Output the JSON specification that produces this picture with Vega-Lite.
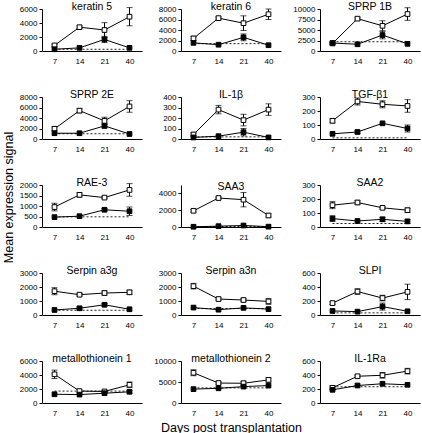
{
"$schema": "https://vega.github.io/schema/vega-lite/v6.json",
"background": "white",
"padding": {"left": 2, "top": 1, "right": 2, "bottom": 2},
"title": {"text": "Mean expression signal", "orient": "left", "anchor": "middle", "fontSize": 12.5, "fontWeight": "normal", "font": "Liberation Sans", "offset": 4, "color": "black", "dx": 20},
"data": {"values": [
{"g":"keratin 5","d":7,"s":"T","v":800,"e":150},{"g":"keratin 5","d":14,"s":"T","v":3400,"e":200},{"g":"keratin 5","d":21,"s":"T","v":3000,"e":1050},{"g":"keratin 5","d":40,"s":"T","v":4900,"e":1300},
{"g":"keratin 5","d":7,"s":"F","v":250,"e":0},{"g":"keratin 5","d":14,"s":"F","v":450,"e":0},{"g":"keratin 5","d":21,"s":"F","v":1650,"e":450},{"g":"keratin 5","d":40,"s":"F","v":450,"e":0},
{"g":"keratin 5","d":7,"s":"C","v":250,"e":0},{"g":"keratin 5","d":40,"s":"C","v":250,"e":0},
{"g":"keratin 6","d":7,"s":"T","v":2400,"e":400},{"g":"keratin 6","d":14,"s":"T","v":6260,"e":200},{"g":"keratin 6","d":21,"s":"T","v":5300,"e":1400},{"g":"keratin 6","d":40,"s":"T","v":7000,"e":1000},
{"g":"keratin 6","d":7,"s":"F","v":1550,"e":0},{"g":"keratin 6","d":14,"s":"F","v":1200,"e":0},{"g":"keratin 6","d":21,"s":"F","v":2600,"e":650},{"g":"keratin 6","d":40,"s":"F","v":1100,"e":0},
{"g":"keratin 6","d":7,"s":"C","v":1400,"e":0},{"g":"keratin 6","d":40,"s":"C","v":1400,"e":0},
{"g":"SPRP 1B","d":7,"s":"T","v":1800,"e":200},{"g":"SPRP 1B","d":14,"s":"T","v":7700,"e":300},{"g":"SPRP 1B","d":21,"s":"T","v":6000,"e":1200},{"g":"SPRP 1B","d":40,"s":"T","v":8800,"e":1500},
{"g":"SPRP 1B","d":7,"s":"F","v":1900,"e":0},{"g":"SPRP 1B","d":14,"s":"F","v":1600,"e":0},{"g":"SPRP 1B","d":21,"s":"F","v":3800,"e":900},{"g":"SPRP 1B","d":40,"s":"F","v":1700,"e":0},
{"g":"SPRP 1B","d":7,"s":"C","v":2200,"e":0},{"g":"SPRP 1B","d":40,"s":"C","v":2200,"e":0},
{"g":"SPRP 2E","d":7,"s":"T","v":1950,"e":400},{"g":"SPRP 2E","d":14,"s":"T","v":5400,"e":400},{"g":"SPRP 2E","d":21,"s":"T","v":3450,"e":700},{"g":"SPRP 2E","d":40,"s":"T","v":6200,"e":1100},
{"g":"SPRP 2E","d":7,"s":"F","v":1100,"e":0},{"g":"SPRP 2E","d":14,"s":"F","v":1100,"e":0},{"g":"SPRP 2E","d":21,"s":"F","v":2500,"e":400},{"g":"SPRP 2E","d":40,"s":"F","v":950,"e":0},
{"g":"SPRP 2E","d":7,"s":"C","v":1000,"e":0},{"g":"SPRP 2E","d":40,"s":"C","v":1000,"e":0},
{"g":"IL-1β","d":7,"s":"T","v":43,"e":15},{"g":"IL-1β","d":14,"s":"T","v":280,"e":40},{"g":"IL-1β","d":21,"s":"T","v":180,"e":55},{"g":"IL-1β","d":40,"s":"T","v":280,"e":55},
{"g":"IL-1β","d":7,"s":"F","v":15,"e":0},{"g":"IL-1β","d":14,"s":"F","v":27,"e":0},{"g":"IL-1β","d":21,"s":"F","v":65,"e":35},{"g":"IL-1β","d":40,"s":"F","v":15,"e":0},
{"g":"IL-1β","d":7,"s":"C","v":20,"e":0},{"g":"IL-1β","d":40,"s":"C","v":20,"e":0},
{"g":"TGF-β1","d":7,"s":"T","v":130,"e":15},{"g":"TGF-β1","d":14,"s":"T","v":268,"e":25},{"g":"TGF-β1","d":21,"s":"T","v":248,"e":25},{"g":"TGF-β1","d":40,"s":"T","v":236,"e":45},
{"g":"TGF-β1","d":7,"s":"F","v":37,"e":0},{"g":"TGF-β1","d":14,"s":"F","v":50,"e":10},{"g":"TGF-β1","d":21,"s":"F","v":112,"e":0},{"g":"TGF-β1","d":40,"s":"F","v":75,"e":25},
{"g":"TGF-β1","d":7,"s":"C","v":8,"e":0},{"g":"TGF-β1","d":40,"s":"C","v":8,"e":0},
{"g":"RAE-3","d":7,"s":"T","v":950,"e":180},{"g":"RAE-3","d":14,"s":"T","v":1530,"e":100},{"g":"RAE-3","d":21,"s":"T","v":1400,"e":40},{"g":"RAE-3","d":40,"s":"T","v":1765,"e":300},
{"g":"RAE-3","d":7,"s":"F","v":470,"e":0},{"g":"RAE-3","d":14,"s":"F","v":515,"e":0},{"g":"RAE-3","d":21,"s":"F","v":820,"e":60},{"g":"RAE-3","d":40,"s":"F","v":750,"e":200},
{"g":"RAE-3","d":7,"s":"C","v":485,"e":0},{"g":"RAE-3","d":40,"s":"C","v":485,"e":0},
{"g":"SAA3","d":7,"s":"T","v":1930,"e":150},{"g":"SAA3","d":14,"s":"T","v":3450,"e":100},{"g":"SAA3","d":21,"s":"T","v":3250,"e":850},{"g":"SAA3","d":40,"s":"T","v":1370,"e":200},
{"g":"SAA3","d":7,"s":"F","v":30,"e":0},{"g":"SAA3","d":14,"s":"F","v":100,"e":0},{"g":"SAA3","d":21,"s":"F","v":180,"e":0},{"g":"SAA3","d":40,"s":"F","v":40,"e":0},
{"g":"SAA3","d":7,"s":"C","v":60,"e":0},{"g":"SAA3","d":40,"s":"C","v":60,"e":0},
{"g":"SAA2","d":7,"s":"T","v":156,"e":25},{"g":"SAA2","d":14,"s":"T","v":175,"e":15},{"g":"SAA2","d":21,"s":"T","v":137,"e":8},{"g":"SAA2","d":40,"s":"T","v":120,"e":15},
{"g":"SAA2","d":7,"s":"F","v":60,"e":20},{"g":"SAA2","d":14,"s":"F","v":43,"e":0},{"g":"SAA2","d":21,"s":"F","v":55,"e":15},{"g":"SAA2","d":40,"s":"F","v":40,"e":15},
{"g":"SAA2","d":7,"s":"C","v":25,"e":0},{"g":"SAA2","d":40,"s":"C","v":25,"e":0},
{"g":"Serpin a3g","d":7,"s":"T","v":1700,"e":250},{"g":"Serpin a3g","d":14,"s":"T","v":1450,"e":80},{"g":"Serpin a3g","d":21,"s":"T","v":1570,"e":150},{"g":"Serpin a3g","d":40,"s":"T","v":1620,"e":150},
{"g":"Serpin a3g","d":7,"s":"F","v":360,"e":0},{"g":"Serpin a3g","d":14,"s":"F","v":480,"e":100},{"g":"Serpin a3g","d":21,"s":"F","v":730,"e":100},{"g":"Serpin a3g","d":40,"s":"F","v":410,"e":0},
{"g":"Serpin a3g","d":7,"s":"C","v":340,"e":0},{"g":"Serpin a3g","d":40,"s":"C","v":340,"e":0},
{"g":"Serpin a3n","d":7,"s":"T","v":2060,"e":200},{"g":"Serpin a3n","d":14,"s":"T","v":1140,"e":80},{"g":"Serpin a3n","d":21,"s":"T","v":1070,"e":100},{"g":"Serpin a3n","d":40,"s":"T","v":970,"e":200},
{"g":"Serpin a3n","d":7,"s":"F","v":530,"e":0},{"g":"Serpin a3n","d":14,"s":"F","v":380,"e":0},{"g":"Serpin a3n","d":21,"s":"F","v":510,"e":0},{"g":"Serpin a3n","d":40,"s":"F","v":420,"e":0},
{"g":"Serpin a3n","d":7,"s":"C","v":460,"e":0},{"g":"Serpin a3n","d":40,"s":"C","v":460,"e":0},
{"g":"SLPI","d":7,"s":"T","v":170,"e":20},{"g":"SLPI","d":14,"s":"T","v":335,"e":40},{"g":"SLPI","d":21,"s":"T","v":242,"e":40},{"g":"SLPI","d":40,"s":"T","v":330,"e":110},
{"g":"SLPI","d":7,"s":"F","v":58,"e":0},{"g":"SLPI","d":14,"s":"F","v":48,"e":0},{"g":"SLPI","d":21,"s":"F","v":120,"e":50},{"g":"SLPI","d":40,"s":"F","v":53,"e":0},
{"g":"SLPI","d":7,"s":"C","v":30,"e":0},{"g":"SLPI","d":40,"s":"C","v":30,"e":0},
{"g":"metallothionein 1","d":7,"s":"T","v":4100,"e":600},{"g":"metallothionein 1","d":14,"s":"T","v":1700,"e":0},{"g":"metallothionein 1","d":21,"s":"T","v":1650,"e":150},{"g":"metallothionein 1","d":40,"s":"T","v":2600,"e":400},
{"g":"metallothionein 1","d":7,"s":"F","v":1250,"e":0},{"g":"metallothionein 1","d":14,"s":"F","v":1200,"e":0},{"g":"metallothionein 1","d":21,"s":"F","v":1400,"e":0},{"g":"metallothionein 1","d":40,"s":"F","v":1600,"e":200},
{"g":"metallothionein 1","d":7,"s":"C","v":1700,"e":0},{"g":"metallothionein 1","d":40,"s":"C","v":1700,"e":0},
{"g":"metallothionein 2","d":7,"s":"T","v":7200,"e":700},{"g":"metallothionein 2","d":14,"s":"T","v":4750,"e":300},{"g":"metallothionein 2","d":21,"s":"T","v":4700,"e":500},{"g":"metallothionein 2","d":40,"s":"T","v":5500,"e":500},
{"g":"metallothionein 2","d":7,"s":"F","v":3300,"e":0},{"g":"metallothionein 2","d":14,"s":"F","v":3500,"e":0},{"g":"metallothionein 2","d":21,"s":"F","v":3900,"e":0},{"g":"metallothionein 2","d":40,"s":"F","v":4150,"e":0},
{"g":"metallothionein 2","d":7,"s":"C","v":3600,"e":0},{"g":"metallothionein 2","d":40,"s":"C","v":3600,"e":0},
{"g":"IL-1Ra","d":7,"s":"T","v":217,"e":30},{"g":"IL-1Ra","d":14,"s":"T","v":382,"e":15},{"g":"IL-1Ra","d":21,"s":"T","v":396,"e":40},{"g":"IL-1Ra","d":40,"s":"T","v":455,"e":40},
{"g":"IL-1Ra","d":7,"s":"F","v":188,"e":0},{"g":"IL-1Ra","d":14,"s":"F","v":250,"e":0},{"g":"IL-1Ra","d":21,"s":"F","v":275,"e":0},{"g":"IL-1Ra","d":40,"s":"F","v":260,"e":0},
{"g":"IL-1Ra","d":7,"s":"C","v":232,"e":0},{"g":"IL-1Ra","d":40,"s":"C","v":232,"e":0}
]},
"columns": 3,
"bounds": "flush",
"spacing": {"row": 46, "column": 39},
"resolve": {"scale": {"x": "independent", "y": "independent"}},
"concat": [
{"title": "keratin 5", "width": 100, "height": 42, "transform": [{"filter": "datum.g === 'keratin 5'"}],
 "encoding": {"x": {"field": "d", "type": "ordinal", "title": null, "scale": {"type": "point", "domain": [7,14,21,40], "padding": 0.5}},
  "y": {"field": "v", "type": "quantitative", "title": null, "scale": {"domain": [0,6000], "nice": false}, "axis": {"values": [0,2000,4000,6000]}}},
 "layer": [
  {"transform": [{"filter": "datum.s === 'C'"}], "mark": {"type": "line", "strokeDash": [2,2], "strokeWidth": 1, "color": "#222"}},
  {"transform": [{"filter": "datum.s !== 'C' && datum.e > 0"}], "mark": {"type": "errorbar", "ticks": true, "size": 6, "thickness": 1, "color": "black"}, "encoding": {"yError": {"field": "e"}}},
  {"transform": [{"filter": "datum.s !== 'C'"}], "mark": {"type": "line", "color": "black", "strokeWidth": 1}, "encoding": {"detail": {"field": "s"}}},
  {"transform": [{"filter": "datum.s !== 'C'"}], "mark": {"type": "point", "shape": "square", "filled": true, "size": 22, "stroke": "black", "strokeWidth": 1, "opacity": 1}, "encoding": {"fill": {"field": "s", "type": "nominal", "scale": {"domain": ["T","F"], "range": ["white","black"]}, "legend": null}}}
 ]},
{"title": "keratin 6", "width": 100, "height": 42, "transform": [{"filter": "datum.g === 'keratin 6'"}],
 "encoding": {"x": {"field": "d", "type": "ordinal", "title": null, "scale": {"type": "point", "domain": [7,14,21,40], "padding": 0.5}},
  "y": {"field": "v", "type": "quantitative", "title": null, "scale": {"domain": [0,8000], "nice": false}, "axis": {"values": [0,2000,4000,6000,8000]}}},
 "layer": [
  {"transform": [{"filter": "datum.s === 'C'"}], "mark": {"type": "line", "strokeDash": [2,2], "strokeWidth": 1, "color": "#222"}},
  {"transform": [{"filter": "datum.s !== 'C' && datum.e > 0"}], "mark": {"type": "errorbar", "ticks": true, "size": 6, "thickness": 1, "color": "black"}, "encoding": {"yError": {"field": "e"}}},
  {"transform": [{"filter": "datum.s !== 'C'"}], "mark": {"type": "line", "color": "black", "strokeWidth": 1}, "encoding": {"detail": {"field": "s"}}},
  {"transform": [{"filter": "datum.s !== 'C'"}], "mark": {"type": "point", "shape": "square", "filled": true, "size": 22, "stroke": "black", "strokeWidth": 1, "opacity": 1}, "encoding": {"fill": {"field": "s", "type": "nominal", "scale": {"domain": ["T","F"], "range": ["white","black"]}, "legend": null}}}
 ]},
{"title": "SPRP 1B", "width": 100, "height": 42, "transform": [{"filter": "datum.g === 'SPRP 1B'"}],
 "encoding": {"x": {"field": "d", "type": "ordinal", "title": null, "scale": {"type": "point", "domain": [7,14,21,40], "padding": 0.5}},
  "y": {"field": "v", "type": "quantitative", "title": null, "scale": {"domain": [0,10000], "nice": false}, "axis": {"values": [0,2500,5000,7500,10000]}}},
 "layer": [
  {"transform": [{"filter": "datum.s === 'C'"}], "mark": {"type": "line", "strokeDash": [2,2], "strokeWidth": 1, "color": "#222"}},
  {"transform": [{"filter": "datum.s !== 'C' && datum.e > 0"}], "mark": {"type": "errorbar", "ticks": true, "size": 6, "thickness": 1, "color": "black"}, "encoding": {"yError": {"field": "e"}}},
  {"transform": [{"filter": "datum.s !== 'C'"}], "mark": {"type": "line", "color": "black", "strokeWidth": 1}, "encoding": {"detail": {"field": "s"}}},
  {"transform": [{"filter": "datum.s !== 'C'"}], "mark": {"type": "point", "shape": "square", "filled": true, "size": 22, "stroke": "black", "strokeWidth": 1, "opacity": 1}, "encoding": {"fill": {"field": "s", "type": "nominal", "scale": {"domain": ["T","F"], "range": ["white","black"]}, "legend": null}}}
 ]},
{"title": "SPRP 2E", "width": 100, "height": 42, "transform": [{"filter": "datum.g === 'SPRP 2E'"}],
 "encoding": {"x": {"field": "d", "type": "ordinal", "title": null, "scale": {"type": "point", "domain": [7,14,21,40], "padding": 0.5}},
  "y": {"field": "v", "type": "quantitative", "title": null, "scale": {"domain": [0,8000], "nice": false}, "axis": {"values": [0,2000,4000,6000,8000]}}},
 "layer": [
  {"transform": [{"filter": "datum.s === 'C'"}], "mark": {"type": "line", "strokeDash": [2,2], "strokeWidth": 1, "color": "#222"}},
  {"transform": [{"filter": "datum.s !== 'C' && datum.e > 0"}], "mark": {"type": "errorbar", "ticks": true, "size": 6, "thickness": 1, "color": "black"}, "encoding": {"yError": {"field": "e"}}},
  {"transform": [{"filter": "datum.s !== 'C'"}], "mark": {"type": "line", "color": "black", "strokeWidth": 1}, "encoding": {"detail": {"field": "s"}}},
  {"transform": [{"filter": "datum.s !== 'C'"}], "mark": {"type": "point", "shape": "square", "filled": true, "size": 22, "stroke": "black", "strokeWidth": 1, "opacity": 1}, "encoding": {"fill": {"field": "s", "type": "nominal", "scale": {"domain": ["T","F"], "range": ["white","black"]}, "legend": null}}}
 ]},
{"title": "IL-1β", "width": 100, "height": 42, "transform": [{"filter": "datum.g === 'IL-1β'"}],
 "encoding": {"x": {"field": "d", "type": "ordinal", "title": null, "scale": {"type": "point", "domain": [7,14,21,40], "padding": 0.5}},
  "y": {"field": "v", "type": "quantitative", "title": null, "scale": {"domain": [0,400], "nice": false}, "axis": {"values": [0,100,200,300,400]}}},
 "layer": [
  {"transform": [{"filter": "datum.s === 'C'"}], "mark": {"type": "line", "strokeDash": [2,2], "strokeWidth": 1, "color": "#222"}},
  {"transform": [{"filter": "datum.s !== 'C' && datum.e > 0"}], "mark": {"type": "errorbar", "ticks": true, "size": 6, "thickness": 1, "color": "black"}, "encoding": {"yError": {"field": "e"}}},
  {"transform": [{"filter": "datum.s !== 'C'"}], "mark": {"type": "line", "color": "black", "strokeWidth": 1}, "encoding": {"detail": {"field": "s"}}},
  {"transform": [{"filter": "datum.s !== 'C'"}], "mark": {"type": "point", "shape": "square", "filled": true, "size": 22, "stroke": "black", "strokeWidth": 1, "opacity": 1}, "encoding": {"fill": {"field": "s", "type": "nominal", "scale": {"domain": ["T","F"], "range": ["white","black"]}, "legend": null}}}
 ]},
{"title": "TGF-β1", "width": 100, "height": 42, "transform": [{"filter": "datum.g === 'TGF-β1'"}],
 "encoding": {"x": {"field": "d", "type": "ordinal", "title": null, "scale": {"type": "point", "domain": [7,14,21,40], "padding": 0.5}},
  "y": {"field": "v", "type": "quantitative", "title": null, "scale": {"domain": [0,300], "nice": false}, "axis": {"values": [0,100,200,300]}}},
 "layer": [
  {"transform": [{"filter": "datum.s === 'C'"}], "mark": {"type": "line", "strokeDash": [2,2], "strokeWidth": 1, "color": "#222"}},
  {"transform": [{"filter": "datum.s !== 'C' && datum.e > 0"}], "mark": {"type": "errorbar", "ticks": true, "size": 6, "thickness": 1, "color": "black"}, "encoding": {"yError": {"field": "e"}}},
  {"transform": [{"filter": "datum.s !== 'C'"}], "mark": {"type": "line", "color": "black", "strokeWidth": 1}, "encoding": {"detail": {"field": "s"}}},
  {"transform": [{"filter": "datum.s !== 'C'"}], "mark": {"type": "point", "shape": "square", "filled": true, "size": 22, "stroke": "black", "strokeWidth": 1, "opacity": 1}, "encoding": {"fill": {"field": "s", "type": "nominal", "scale": {"domain": ["T","F"], "range": ["white","black"]}, "legend": null}}}
 ]},
{"title": "RAE-3", "width": 100, "height": 42, "transform": [{"filter": "datum.g === 'RAE-3'"}],
 "encoding": {"x": {"field": "d", "type": "ordinal", "title": null, "scale": {"type": "point", "domain": [7,14,21,40], "padding": 0.5}},
  "y": {"field": "v", "type": "quantitative", "title": null, "scale": {"domain": [0,2000], "nice": false}, "axis": {"values": [0,500,1000,1500,2000]}}},
 "layer": [
  {"transform": [{"filter": "datum.s === 'C'"}], "mark": {"type": "line", "strokeDash": [2,2], "strokeWidth": 1, "color": "#222"}},
  {"transform": [{"filter": "datum.s !== 'C' && datum.e > 0"}], "mark": {"type": "errorbar", "ticks": true, "size": 6, "thickness": 1, "color": "black"}, "encoding": {"yError": {"field": "e"}}},
  {"transform": [{"filter": "datum.s !== 'C'"}], "mark": {"type": "line", "color": "black", "strokeWidth": 1}, "encoding": {"detail": {"field": "s"}}},
  {"transform": [{"filter": "datum.s !== 'C'"}], "mark": {"type": "point", "shape": "square", "filled": true, "size": 22, "stroke": "black", "strokeWidth": 1, "opacity": 1}, "encoding": {"fill": {"field": "s", "type": "nominal", "scale": {"domain": ["T","F"], "range": ["white","black"]}, "legend": null}}}
 ]},
{"title": "SAA3", "width": 100, "height": 42, "transform": [{"filter": "datum.g === 'SAA3'"}],
 "encoding": {"x": {"field": "d", "type": "ordinal", "title": null, "scale": {"type": "point", "domain": [7,14,21,40], "padding": 0.5}},
  "y": {"field": "v", "type": "quantitative", "title": null, "scale": {"domain": [0,5000], "nice": false}, "axis": {"values": [0,1000,2000,3000,4000,5000]}}},
 "layer": [
  {"transform": [{"filter": "datum.s === 'C'"}], "mark": {"type": "line", "strokeDash": [2,2], "strokeWidth": 1, "color": "#222"}},
  {"transform": [{"filter": "datum.s !== 'C' && datum.e > 0"}], "mark": {"type": "errorbar", "ticks": true, "size": 6, "thickness": 1, "color": "black"}, "encoding": {"yError": {"field": "e"}}},
  {"transform": [{"filter": "datum.s !== 'C'"}], "mark": {"type": "line", "color": "black", "strokeWidth": 1}, "encoding": {"detail": {"field": "s"}}},
  {"transform": [{"filter": "datum.s !== 'C'"}], "mark": {"type": "point", "shape": "square", "filled": true, "size": 22, "stroke": "black", "strokeWidth": 1, "opacity": 1}, "encoding": {"fill": {"field": "s", "type": "nominal", "scale": {"domain": ["T","F"], "range": ["white","black"]}, "legend": null}}}
 ]},
{"title": "SAA2", "width": 100, "height": 42, "transform": [{"filter": "datum.g === 'SAA2'"}],
 "encoding": {"x": {"field": "d", "type": "ordinal", "title": null, "scale": {"type": "point", "domain": [7,14,21,40], "padding": 0.5}},
  "y": {"field": "v", "type": "quantitative", "title": null, "scale": {"domain": [0,300], "nice": false}, "axis": {"values": [0,100,200,300]}}},
 "layer": [
  {"transform": [{"filter": "datum.s === 'C'"}], "mark": {"type": "line", "strokeDash": [2,2], "strokeWidth": 1, "color": "#222"}},
  {"transform": [{"filter": "datum.s !== 'C' && datum.e > 0"}], "mark": {"type": "errorbar", "ticks": true, "size": 6, "thickness": 1, "color": "black"}, "encoding": {"yError": {"field": "e"}}},
  {"transform": [{"filter": "datum.s !== 'C'"}], "mark": {"type": "line", "color": "black", "strokeWidth": 1}, "encoding": {"detail": {"field": "s"}}},
  {"transform": [{"filter": "datum.s !== 'C'"}], "mark": {"type": "point", "shape": "square", "filled": true, "size": 22, "stroke": "black", "strokeWidth": 1, "opacity": 1}, "encoding": {"fill": {"field": "s", "type": "nominal", "scale": {"domain": ["T","F"], "range": ["white","black"]}, "legend": null}}}
 ]},
{"title": "Serpin a3g", "width": 100, "height": 42, "transform": [{"filter": "datum.g === 'Serpin a3g'"}],
 "encoding": {"x": {"field": "d", "type": "ordinal", "title": null, "scale": {"type": "point", "domain": [7,14,21,40], "padding": 0.5}},
  "y": {"field": "v", "type": "quantitative", "title": null, "scale": {"domain": [0,3000], "nice": false}, "axis": {"values": [0,1000,2000,3000]}}},
 "layer": [
  {"transform": [{"filter": "datum.s === 'C'"}], "mark": {"type": "line", "strokeDash": [2,2], "strokeWidth": 1, "color": "#222"}},
  {"transform": [{"filter": "datum.s !== 'C' && datum.e > 0"}], "mark": {"type": "errorbar", "ticks": true, "size": 6, "thickness": 1, "color": "black"}, "encoding": {"yError": {"field": "e"}}},
  {"transform": [{"filter": "datum.s !== 'C'"}], "mark": {"type": "line", "color": "black", "strokeWidth": 1}, "encoding": {"detail": {"field": "s"}}},
  {"transform": [{"filter": "datum.s !== 'C'"}], "mark": {"type": "point", "shape": "square", "filled": true, "size": 22, "stroke": "black", "strokeWidth": 1, "opacity": 1}, "encoding": {"fill": {"field": "s", "type": "nominal", "scale": {"domain": ["T","F"], "range": ["white","black"]}, "legend": null}}}
 ]},
{"title": "Serpin a3n", "width": 100, "height": 42, "transform": [{"filter": "datum.g === 'Serpin a3n'"}],
 "encoding": {"x": {"field": "d", "type": "ordinal", "title": null, "scale": {"type": "point", "domain": [7,14,21,40], "padding": 0.5}},
  "y": {"field": "v", "type": "quantitative", "title": null, "scale": {"domain": [0,3000], "nice": false}, "axis": {"values": [0,1000,2000,3000]}}},
 "layer": [
  {"transform": [{"filter": "datum.s === 'C'"}], "mark": {"type": "line", "strokeDash": [2,2], "strokeWidth": 1, "color": "#222"}},
  {"transform": [{"filter": "datum.s !== 'C' && datum.e > 0"}], "mark": {"type": "errorbar", "ticks": true, "size": 6, "thickness": 1, "color": "black"}, "encoding": {"yError": {"field": "e"}}},
  {"transform": [{"filter": "datum.s !== 'C'"}], "mark": {"type": "line", "color": "black", "strokeWidth": 1}, "encoding": {"detail": {"field": "s"}}},
  {"transform": [{"filter": "datum.s !== 'C'"}], "mark": {"type": "point", "shape": "square", "filled": true, "size": 22, "stroke": "black", "strokeWidth": 1, "opacity": 1}, "encoding": {"fill": {"field": "s", "type": "nominal", "scale": {"domain": ["T","F"], "range": ["white","black"]}, "legend": null}}}
 ]},
{"title": "SLPI", "width": 100, "height": 42, "transform": [{"filter": "datum.g === 'SLPI'"}],
 "encoding": {"x": {"field": "d", "type": "ordinal", "title": null, "scale": {"type": "point", "domain": [7,14,21,40], "padding": 0.5}},
  "y": {"field": "v", "type": "quantitative", "title": null, "scale": {"domain": [0,600], "nice": false}, "axis": {"values": [0,200,400,600]}}},
 "layer": [
  {"transform": [{"filter": "datum.s === 'C'"}], "mark": {"type": "line", "strokeDash": [2,2], "strokeWidth": 1, "color": "#222"}},
  {"transform": [{"filter": "datum.s !== 'C' && datum.e > 0"}], "mark": {"type": "errorbar", "ticks": true, "size": 6, "thickness": 1, "color": "black"}, "encoding": {"yError": {"field": "e"}}},
  {"transform": [{"filter": "datum.s !== 'C'"}], "mark": {"type": "line", "color": "black", "strokeWidth": 1}, "encoding": {"detail": {"field": "s"}}},
  {"transform": [{"filter": "datum.s !== 'C'"}], "mark": {"type": "point", "shape": "square", "filled": true, "size": 22, "stroke": "black", "strokeWidth": 1, "opacity": 1}, "encoding": {"fill": {"field": "s", "type": "nominal", "scale": {"domain": ["T","F"], "range": ["white","black"]}, "legend": null}}}
 ]},
{"title": "metallothionein 1", "width": 100, "height": 42, "transform": [{"filter": "datum.g === 'metallothionein 1'"}],
 "encoding": {"x": {"field": "d", "type": "ordinal", "title": null, "scale": {"type": "point", "domain": [7,14,21,40], "padding": 0.5}},
  "y": {"field": "v", "type": "quantitative", "title": null, "scale": {"domain": [0,6000], "nice": false}, "axis": {"values": [0,2000,4000,6000]}}},
 "layer": [
  {"transform": [{"filter": "datum.s === 'C'"}], "mark": {"type": "line", "strokeDash": [2,2], "strokeWidth": 1, "color": "#222"}},
  {"transform": [{"filter": "datum.s !== 'C' && datum.e > 0"}], "mark": {"type": "errorbar", "ticks": true, "size": 6, "thickness": 1, "color": "black"}, "encoding": {"yError": {"field": "e"}}},
  {"transform": [{"filter": "datum.s !== 'C'"}], "mark": {"type": "line", "color": "black", "strokeWidth": 1}, "encoding": {"detail": {"field": "s"}}},
  {"transform": [{"filter": "datum.s !== 'C'"}], "mark": {"type": "point", "shape": "square", "filled": true, "size": 22, "stroke": "black", "strokeWidth": 1, "opacity": 1}, "encoding": {"fill": {"field": "s", "type": "nominal", "scale": {"domain": ["T","F"], "range": ["white","black"]}, "legend": null}}}
 ]},
{"title": "metallothionein 2", "width": 100, "height": 42, "transform": [{"filter": "datum.g === 'metallothionein 2'"}],
 "encoding": {"x": {"field": "d", "type": "ordinal", "title": "Days post transplantation", "scale": {"type": "point", "domain": [7,14,21,40], "padding": 0.5}},
  "y": {"field": "v", "type": "quantitative", "title": null, "scale": {"domain": [0,10000], "nice": false}, "axis": {"values": [0,5000,10000]}}},
 "layer": [
  {"transform": [{"filter": "datum.s === 'C'"}], "mark": {"type": "line", "strokeDash": [2,2], "strokeWidth": 1, "color": "#222"}},
  {"transform": [{"filter": "datum.s !== 'C' && datum.e > 0"}], "mark": {"type": "errorbar", "ticks": true, "size": 6, "thickness": 1, "color": "black"}, "encoding": {"yError": {"field": "e"}}},
  {"transform": [{"filter": "datum.s !== 'C'"}], "mark": {"type": "line", "color": "black", "strokeWidth": 1}, "encoding": {"detail": {"field": "s"}}},
  {"transform": [{"filter": "datum.s !== 'C'"}], "mark": {"type": "point", "shape": "square", "filled": true, "size": 22, "stroke": "black", "strokeWidth": 1, "opacity": 1}, "encoding": {"fill": {"field": "s", "type": "nominal", "scale": {"domain": ["T","F"], "range": ["white","black"]}, "legend": null}}}
 ]},
{"title": "IL-1Ra", "width": 100, "height": 42, "transform": [{"filter": "datum.g === 'IL-1Ra'"}],
 "encoding": {"x": {"field": "d", "type": "ordinal", "title": null, "scale": {"type": "point", "domain": [7,14,21,40], "padding": 0.5}},
  "y": {"field": "v", "type": "quantitative", "title": null, "scale": {"domain": [0,600], "nice": false}, "axis": {"values": [0,200,400,600]}}},
 "layer": [
  {"transform": [{"filter": "datum.s === 'C'"}], "mark": {"type": "line", "strokeDash": [2,2], "strokeWidth": 1, "color": "#222"}},
  {"transform": [{"filter": "datum.s !== 'C' && datum.e > 0"}], "mark": {"type": "errorbar", "ticks": true, "size": 6, "thickness": 1, "color": "black"}, "encoding": {"yError": {"field": "e"}}},
  {"transform": [{"filter": "datum.s !== 'C'"}], "mark": {"type": "line", "color": "black", "strokeWidth": 1}, "encoding": {"detail": {"field": "s"}}},
  {"transform": [{"filter": "datum.s !== 'C'"}], "mark": {"type": "point", "shape": "square", "filled": true, "size": 22, "stroke": "black", "strokeWidth": 1, "opacity": 1}, "encoding": {"fill": {"field": "s", "type": "nominal", "scale": {"domain": ["T","F"], "range": ["white","black"]}, "legend": null}}}
 ]}
],
"config": {
 "view": {"stroke": null},
 "font": "Liberation Sans",
 "title": {"fontSize": 10.5, "fontWeight": "normal", "font": "Liberation Sans", "color": "black", "offset": -7},
 "axis": {"grid": false, "domainColor": "black", "tickColor": "black", "labelColor": "black", "labelFont": "Liberation Sans", "labelFontSize": 8, "titleFont": "Liberation Sans", "titleFontSize": 12.5, "titleFontWeight": "normal", "titleColor": "black", "domainWidth": 1, "tickWidth": 1},
 "axisX": {"ticks": false, "labelPadding": 6, "labelAngle": 0, "titlePadding": 4},
 "axisY": {"tickSize": 3, "labelPadding": 2, "format": "d", "tickCount": 5}
}
}
